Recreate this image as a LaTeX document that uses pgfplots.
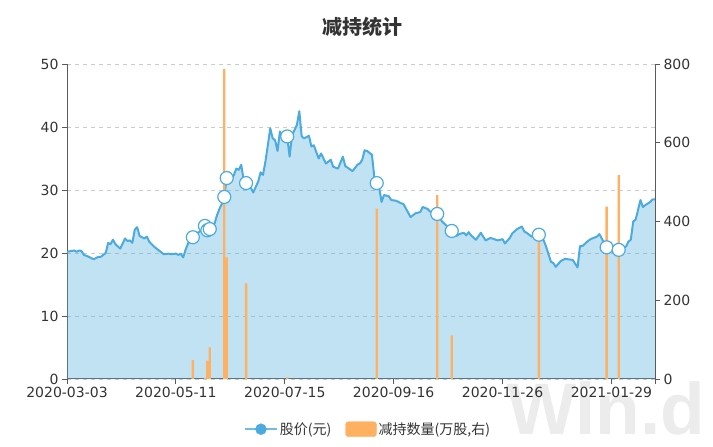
\documentclass[border=0pt]{standalone}
\usepackage{fontspec}
\setmainfont{Noto Sans CJK SC}
\newfontfamily\numfont{DejaVu Sans}
\newfontfamily\wmfont{Liberation Sans}
\usepackage{pgfplots}
\pgfplotsset{compat=1.18}
\usepackage{pgfplotstable}

\definecolor{lineblue}{RGB}{76,171,222}
\definecolor{barorange}{RGB}{255,176,96}
\definecolor{gridgray}{RGB}{204,204,204}
\definecolor{axisgray}{RGB}{90,90,90}
\definecolor{textgray}{RGB}{51,51,51}
\definecolor{wmgray}{RGB}{236,236,236}

\pgfplotstableread{
idx price
0 20.2
3 20.4
4 20.2
5 20.4
6 20.3
7 19.7
9 19.4
11 19.0
13 19.4
14 19.4
16 20.0
17 21.6
18 21.4
19 22.1
20 21.4
22 20.7
24 22.3
25 21.9
26 22.0
27 21.6
28 23.7
29 24.1
30 22.7
32 22.3
33 22.6
34 21.8
36 21.0
38 20.4
40 19.8
42 19.9
43 19.8
45 19.9
46 19.7
47 19.9
48 19.3
49 20.5
50 21.5
51 22.1
52 22.5
54 23.2
56 23.7
57 24.3
58 23.6
59 23.8
61 24.7
62 26.0
63 27.0
64 27.8
65 28.9
66 31.9
67 31.3
68 31.8
69 32.4
70 33.4
71 33.2
72 34.0
73 31.6
74 31.1
76 30.3
77 29.6
78 30.5
79 31.3
80 32.8
81 32.4
82 34.5
83 37.1
84 39.8
85 38.2
86 37.9
87 36.2
88 39.3
89 38.0
90 37.7
91 38.5
92 35.3
93 38.7
94 39.5
95 40.3
96 42.5
97 38.5
98 38.2
100 38.6
101 36.9
102 37.1
104 35.0
105 35.8
107 34.2
109 34.8
110 33.7
112 33.4
114 35.3
115 33.8
118 33.0
120 34.0
121 34.2
122 34.8
123 36.3
124 36.2
126 35.6
127 32.1
128 31.1
129 30.4
130 28.1
131 29.2
133 29.0
134 28.4
136 28.3
138 27.9
139 27.8
140 27.1
142 25.7
144 26.3
146 26.5
147 27.3
149 27.0
150 26.6
153 26.2
155 25.0
158 23.9
159 23.5
161 22.7
162 23.0
164 23.2
165 22.8
166 23.3
167 22.8
169 22.1
171 23.2
173 22.0
175 22.4
178 22.0
180 22.2
181 21.5
183 22.4
184 23.1
186 23.8
188 24.2
189 23.4
190 23.2
192 22.6
195 22.9
197 22.0
198 21.0
200 18.6
201 18.4
202 17.8
204 18.7
206 19.1
207 19.0
209 18.9
211 17.7
212 21.1
213 21.1
215 21.8
216 22.1
217 22.3
219 22.6
220 23.0
221 22.3
223 20.9
224 20.9
228 20.5
229 20.9
231 21.0
232 21.8
233 22.1
234 25.0
235 25.3
237 28.4
238 27.3
239 27.6
241 28.1
242 28.5
243 28.5
}\pricetable

\pgfplotstableread{
idx qty
52 48
57 3
58 46
59 80
65 787
66 309
74 243
91 4
128 433
153 467
159 111
195 355
223 438
228 518
}\bartable

\pgfplotstableread{
idx price
52 22.5
57 24.3
58 23.6
59 23.8
65 28.9
66 31.9
74 31.1
91 38.5
128 31.1
153 26.2
159 23.5
195 22.9
223 20.9
228 20.5
}\marktable

\pgfplotsset{
  base/.style={
    at={(67bp,68bp)}, anchor=south west,
    width=588bp, height=315bp, scale only axis,
    xmin=0, xmax=243,
    tick align=outside, major tick length=5bp,
    tick style={axisgray, line width=0.8bp},
    axis line style={axisgray, line width=1bp},
    tick label style={font=\numfont\fontsize{14bp}{16bp}\selectfont, text=textgray},
    /pgf/number format/assume math mode=true,
  }
}

\begin{document}
\begin{tikzpicture}
\path[use as bounding box] (0,0) rectangle (713bp,447bp);
\node[anchor=south west, inner sep=0pt, text=wmgray] at (507bp,12bp)
  {\wmfont\bfseries\fontsize{73bp}{80bp}\selectfont Win.d};
\node[text=textgray] at (362bp,420bp) {\bfseries\fontsize{20bp}{24bp}\selectfont 减持统计};

\begin{axis}[base,
  ymin=0, ymax=50,
  axis x line*=bottom, axis y line*=left,
  xtick={0,45,90,135,180,225,243},
  xticklabels={2020-03-03,2020-05-11,2020-07-15,2020-09-16,2020-11-26,2021-01-29,{}},
  ytick={0,10,...,50},
  ymajorgrids,
  grid style={gridgray, dash pattern=on 4bp off 4bp, line width=0.8bp},
]
\addplot[draw=none, fill=lineblue, fill opacity=0.35] table[x=idx,y=price]{\pricetable} \closedcycle;
\addplot[lineblue, line width=2bp, line join=round, mark=none] table[x=idx,y=price]{\pricetable};
\end{axis}

\begin{axis}[base,
  ymin=0, ymax=800,
  axis x line=none, axis y line*=right,
  ytick={0,200,...,800},
]
\addplot[ybar, bar width=2.4bp, fill=barorange, draw=none] table[x=idx,y=qty]{\bartable};
\end{axis}

\begin{axis}[base,
  ymin=0, ymax=50,
  hide axis,
  legend style={at={(0.512,-0.125)}, anchor=north, draw=none, fill=none,
    legend columns=2, font=\fontsize{14bp}{16bp}\selectfont, text=textgray,
    /tikz/every even column/.append style={column sep=12bp}},
  legend cell align=left,
]
\addplot[only marks, mark=*, mark size=6.5bp,
  mark options={draw=lineblue, fill=white, line width=1.2bp}, forget plot]
  table[x=idx,y=price]{\marktable};
\addlegendimage{legend image code/.code={
  \draw[lineblue!80, line width=1.8bp] (0bp,0bp) -- (32bp,0bp);
  \fill[lineblue] (16bp,0bp) circle (5.5bp);}}
\addlegendentry{股价(元)}
\addlegendimage{legend image code/.code={
  \fill[barorange, rounded corners=3bp] (0bp,-7.5bp) rectangle (31bp,7.5bp);}}
\addlegendentry{减持数量(万股,右)}
\end{axis}
\end{tikzpicture}
\end{document}
